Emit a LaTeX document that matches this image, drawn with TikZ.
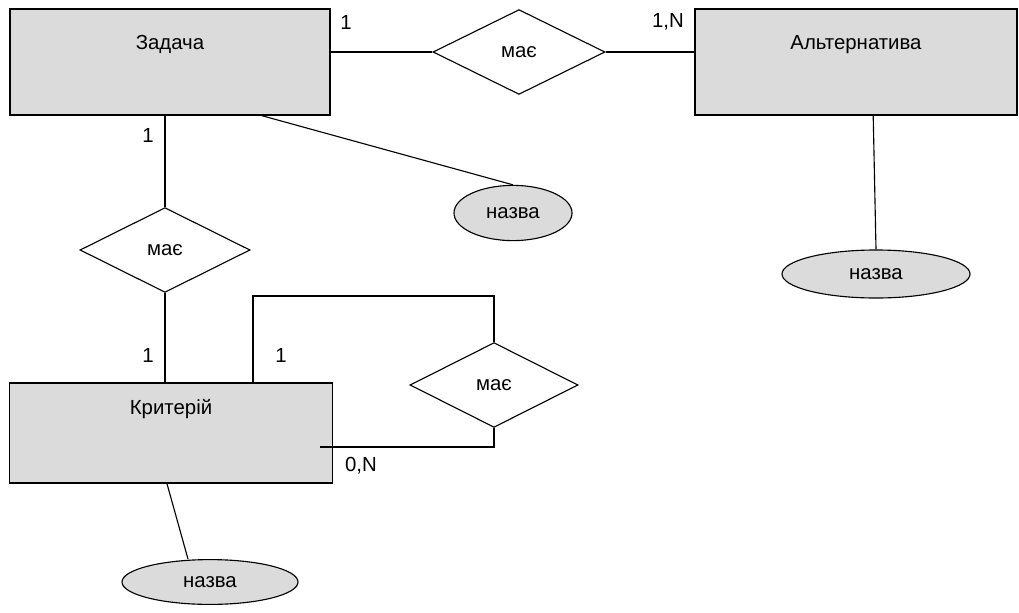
\documentclass[tikz,border=0pt]{standalone}
\usepackage{fontspec}
\setmainfont{Liberation Sans}
\usetikzlibrary{shapes.geometric, positioning}

\begin{document}
\begin{tikzpicture}[
        x=0.025cm, y=-0.025cm,
        font=\fontsize{14.5}{18}\selectfont,
        entity/.style={rectangle, draw, line width=1pt, fill=gray!28, minimum width=8cm, minimum height=2.65cm},
        ename/.style={anchor=center, yshift=-0.9cm},
        relation/.style={diamond, draw, line width=0.8pt, fill=white, inner sep=0pt, minimum width=4.3cm, minimum height=2.12cm},
        attr/.style={ellipse, draw, line width=0.8pt, fill=gray!28, inner sep=0pt},
        card/.style={inner sep=1pt},
        link/.style={line width=0.8pt}
        ]

        \useasboundingbox (0,0) rectangle (1019,612);

        \node (zadacha) [entity, label={[ename]north:Задача}] at (170,62) {};
        \node (alt) [entity, minimum width=8.05cm, label={[ename]north:Альтернатива}] at (856,62) {};
        \node (kryt) [entity, minimum width=8.08cm, minimum height=2.5cm, label={[ename, yshift=0.22cm]north:Критерій}] at (171,433) {};

        \node (masA) [relation] at (519,52) {має};
        \node (masB) [relation, minimum width=4.25cm] at (165,250) {має};
        \node (masC) [relation, minimum width=4.2cm] at (494,385) {має};

        \node (nazvaA) [attr, minimum width=2.95cm, minimum height=1.38cm] at (513,213) {назва};
        \node (nazvaB) [attr, minimum width=4.7cm, minimum height=1.2cm] at (876,274) {назва};
        \node (nazvaC) [attr, minimum width=4.4cm, minimum height=1.12cm] at (210,582) {назва};

        \node (c1) [card] at (346,22) {1};
        \node (c2) [card] at (668,22) {1,N};
        \node (c3) [card] at (148,135) {1};
        \node (c4) [card] at (148,355) {1};
        \node (c5) [card] at (281,355) {1};
        \node (c6) [card] at (361,466) {0,N};

        \coordinate (loopL) at (253,296);
        \coordinate (loopE) at (320,447);

        \draw [link] (masA.west) -- (masA.west -| zadacha.east);
        \draw [link] (masA.east) -- (masA.east -| alt.west);
        \draw [link] (masB.north) -- (masB.north |- zadacha.south);
        \draw [link] (masB.south) -- (masB.south |- kryt.north);
        \draw [link] (loopL |- kryt.north) -- (loopL) -| (masC.north);
        \draw [link] (masC.south) |- (loopE);
        \draw [link] ([xshift=2.3cm]zadacha.south) -- (nazvaA.north);
        \draw [link] ([xshift=0.43cm]alt.south) -- (nazvaB.north);
        \draw [link] ([xshift=-0.1cm]kryt.south) -- ([xshift=-0.55cm]nazvaC.north);

    \end{tikzpicture}
\end{document}
